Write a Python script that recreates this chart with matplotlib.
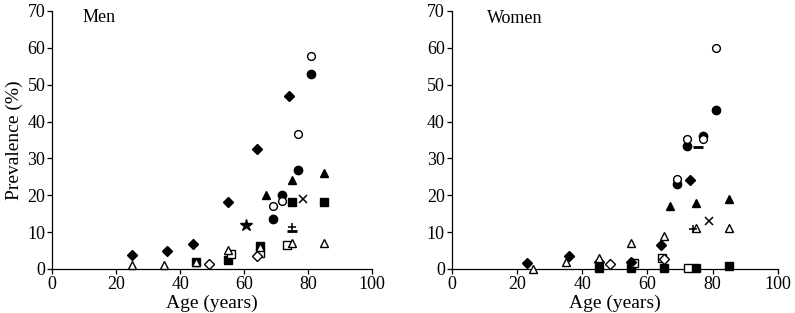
import matplotlib
matplotlib.use("Agg")
import matplotlib.pyplot as plt

plt.rcParams['font.family'] = ['Liberation Serif', 'DejaVu Serif']

# ---------------- Men ----------------
men_fdiamond_x = [25, 36, 44, 55, 64, 74]
men_fdiamond_y = [3.8, 5.0, 6.9, 18.2, 32.6, 46.8]
men_otri_x = [25, 35, 45, 55, 65, 75, 85]
men_otri_y = [1.0, 1.0, 2.0, 5.1, 6.0, 7.0, 7.0]
men_fsq_x = [45, 55, 65, 75, 85]
men_fsq_y = [2.0, 2.4, 6.2, 18.3, 18.2]
men_osq_x = [56, 65, 73.5]
men_osq_y = [4.0, 4.3, 6.5]
men_odiamond_x = [49, 64]
men_odiamond_y = [1.4, 3.6]
men_fcirc_x = [69, 72, 77, 81]
men_fcirc_y = [13.6, 20.0, 26.9, 52.8]
men_ocirc_x = [69, 72, 77, 81]
men_ocirc_y = [17.0, 18.4, 36.5, 57.8]
men_ftri_x = [67, 75, 85]
men_ftri_y = [20.1, 24.1, 26.0]
men_star_x = [60.5]
men_star_y = [12.0]
men_cross_x = [78.5]
men_cross_y = [19.1]
men_plus_x = [75]
men_plus_y = [11.5]
men_minus_x = [75]
men_minus_y = [10.2]

# ---------------- Women ----------------
wom_fdiamond_x = [23, 36, 45, 55, 64, 73]
wom_fdiamond_y = [1.5, 3.4, 2.0, 2.0, 6.6, 24.2]
wom_otri_x = [25, 35, 45, 55, 65, 75, 85]
wom_otri_y = [0.0, 1.9, 3.1, 7.1, 9.0, 11.0, 11.0]
wom_fsq_x = [45, 55, 65, 75, 85]
wom_fsq_y = [0.2, 0.2, 0.2, 0.2, 0.9]
wom_osq_x = [56, 64.5, 72.5]
wom_osq_y = [1.7, 3.0, 0.2]
wom_odiamond_x = [48.5, 65]
wom_odiamond_y = [1.3, 2.8]
wom_fcirc_x = [69, 72, 77, 81]
wom_fcirc_y = [23.1, 33.4, 36.0, 43.2]
wom_ocirc_x = [69, 72, 77, 81]
wom_ocirc_y = [24.3, 35.2, 35.4, 60.0]
wom_ftri_x = [67, 75, 85]
wom_ftri_y = [17.0, 18.0, 18.9]
wom_star_x = []
wom_star_y = []
wom_cross_x = [79]
wom_cross_y = [13.1]
wom_plus_x = [74]
wom_plus_y = [10.8]
wom_minus_x = [75.5]
wom_minus_y = [33.1]

x_ticks = [0, 20, 40, 60, 80, 100]
y_ticks = [0, 10, 20, 30, 40, 50, 60, 70]

fig = plt.figure(figsize=(7.95, 3.13), dpi=100)
ax1 = fig.add_axes([0.0658, 0.1406, 0.4018, 0.8243])
ax2 = fig.add_axes([0.5682, 0.1406, 0.4104, 0.8243])

def style(ax):
    ax.set_xlim(0, 100)
    ax.set_ylim(0, 70)
    ax.set_xticks(x_ticks)
    ax.set_yticks(y_ticks)
    for s in ['top', 'right']:
        ax.spines[s].set_visible(False)
    for s in ['left', 'bottom']:
        ax.spines[s].set_linewidth(0.9)
    ax.tick_params(direction='out', length=3.5, width=0.9, labelsize=13, pad=1.5)
    ax.set_xlabel('Age (years)', fontsize=14, labelpad=1)

def draw(ax, d):
    k = dict(linestyle='none', clip_on=False, zorder=3)
    ms = 5.2
    ax.plot(d['fsq'][0], d['fsq'][1], marker='s', ms=ms, color='black', **k)
    ax.plot(d['osq'][0], d['osq'][1], marker='s', ms=ms, mfc='white', mec='black', mew=1.0, **k)
    ax.plot(d['fdia'][0], d['fdia'][1], marker='D', ms=4.6, color='black', **k)
    ax.plot(d['odia'][0], d['odia'][1], marker='D', ms=4.6, mfc='white', mec='black', mew=1.0, **k)
    ax.plot(d['otri'][0], d['otri'][1], marker='^', ms=5.5, mfc='white', mec='black', mew=1.0, **k)
    ax.plot(d['ftri'][0], d['ftri'][1], marker='^', ms=6.0, color='black', **k)
    ax.plot(d['fcirc'][0], d['fcirc'][1], marker='o', ms=6.0, color='black', **k)
    ax.plot(d['ocirc'][0], d['ocirc'][1], marker='o', ms=5.6, mfc='white', mec='black', mew=1.0, **k)
    ax.plot(d['star'][0], d['star'][1], marker='*', ms=9, color='black', **k)
    ax.plot(d['cross'][0], d['cross'][1], marker='x', ms=5.5, mew=1.1, color='black', **k)
    ax.plot(d['plus'][0], d['plus'][1], marker='+', ms=5.5, mew=1.1, color='black', **k)
    ax.plot(d['minus'][0], d['minus'][1], marker='_', ms=7, mew=2.0, color='black', **k)

men = dict(fsq=(men_fsq_x, men_fsq_y), osq=(men_osq_x, men_osq_y),
           fdia=(men_fdiamond_x, men_fdiamond_y), odia=(men_odiamond_x, men_odiamond_y),
           otri=(men_otri_x, men_otri_y), ftri=(men_ftri_x, men_ftri_y),
           fcirc=(men_fcirc_x, men_fcirc_y), ocirc=(men_ocirc_x, men_ocirc_y),
           star=(men_star_x, men_star_y), cross=(men_cross_x, men_cross_y),
           plus=(men_plus_x, men_plus_y), minus=(men_minus_x, men_minus_y))
wom = dict(fsq=(wom_fsq_x, wom_fsq_y), osq=(wom_osq_x, wom_osq_y),
           fdia=(wom_fdiamond_x, wom_fdiamond_y), odia=(wom_odiamond_x, wom_odiamond_y),
           otri=(wom_otri_x, wom_otri_y), ftri=(wom_ftri_x, wom_ftri_y),
           fcirc=(wom_fcirc_x, wom_fcirc_y), ocirc=(wom_ocirc_x, wom_ocirc_y),
           star=(wom_star_x, wom_star_y), cross=(wom_cross_x, wom_cross_y),
           plus=(wom_plus_x, wom_plus_y), minus=(wom_minus_x, wom_minus_y))

for ax, d in [(ax1, men), (ax2, wom)]:
    style(ax)
    draw(ax, d)

ax1.set_ylabel('Prevalence (%)', fontsize=14, labelpad=3)
ax1.text(9.5, 67, 'Men', fontsize=13, va='baseline', ha='left')
ax2.text(10.9, 66.8, 'Women', fontsize=13, va='baseline', ha='left')

fig.savefig('out.png', dpi=100)
